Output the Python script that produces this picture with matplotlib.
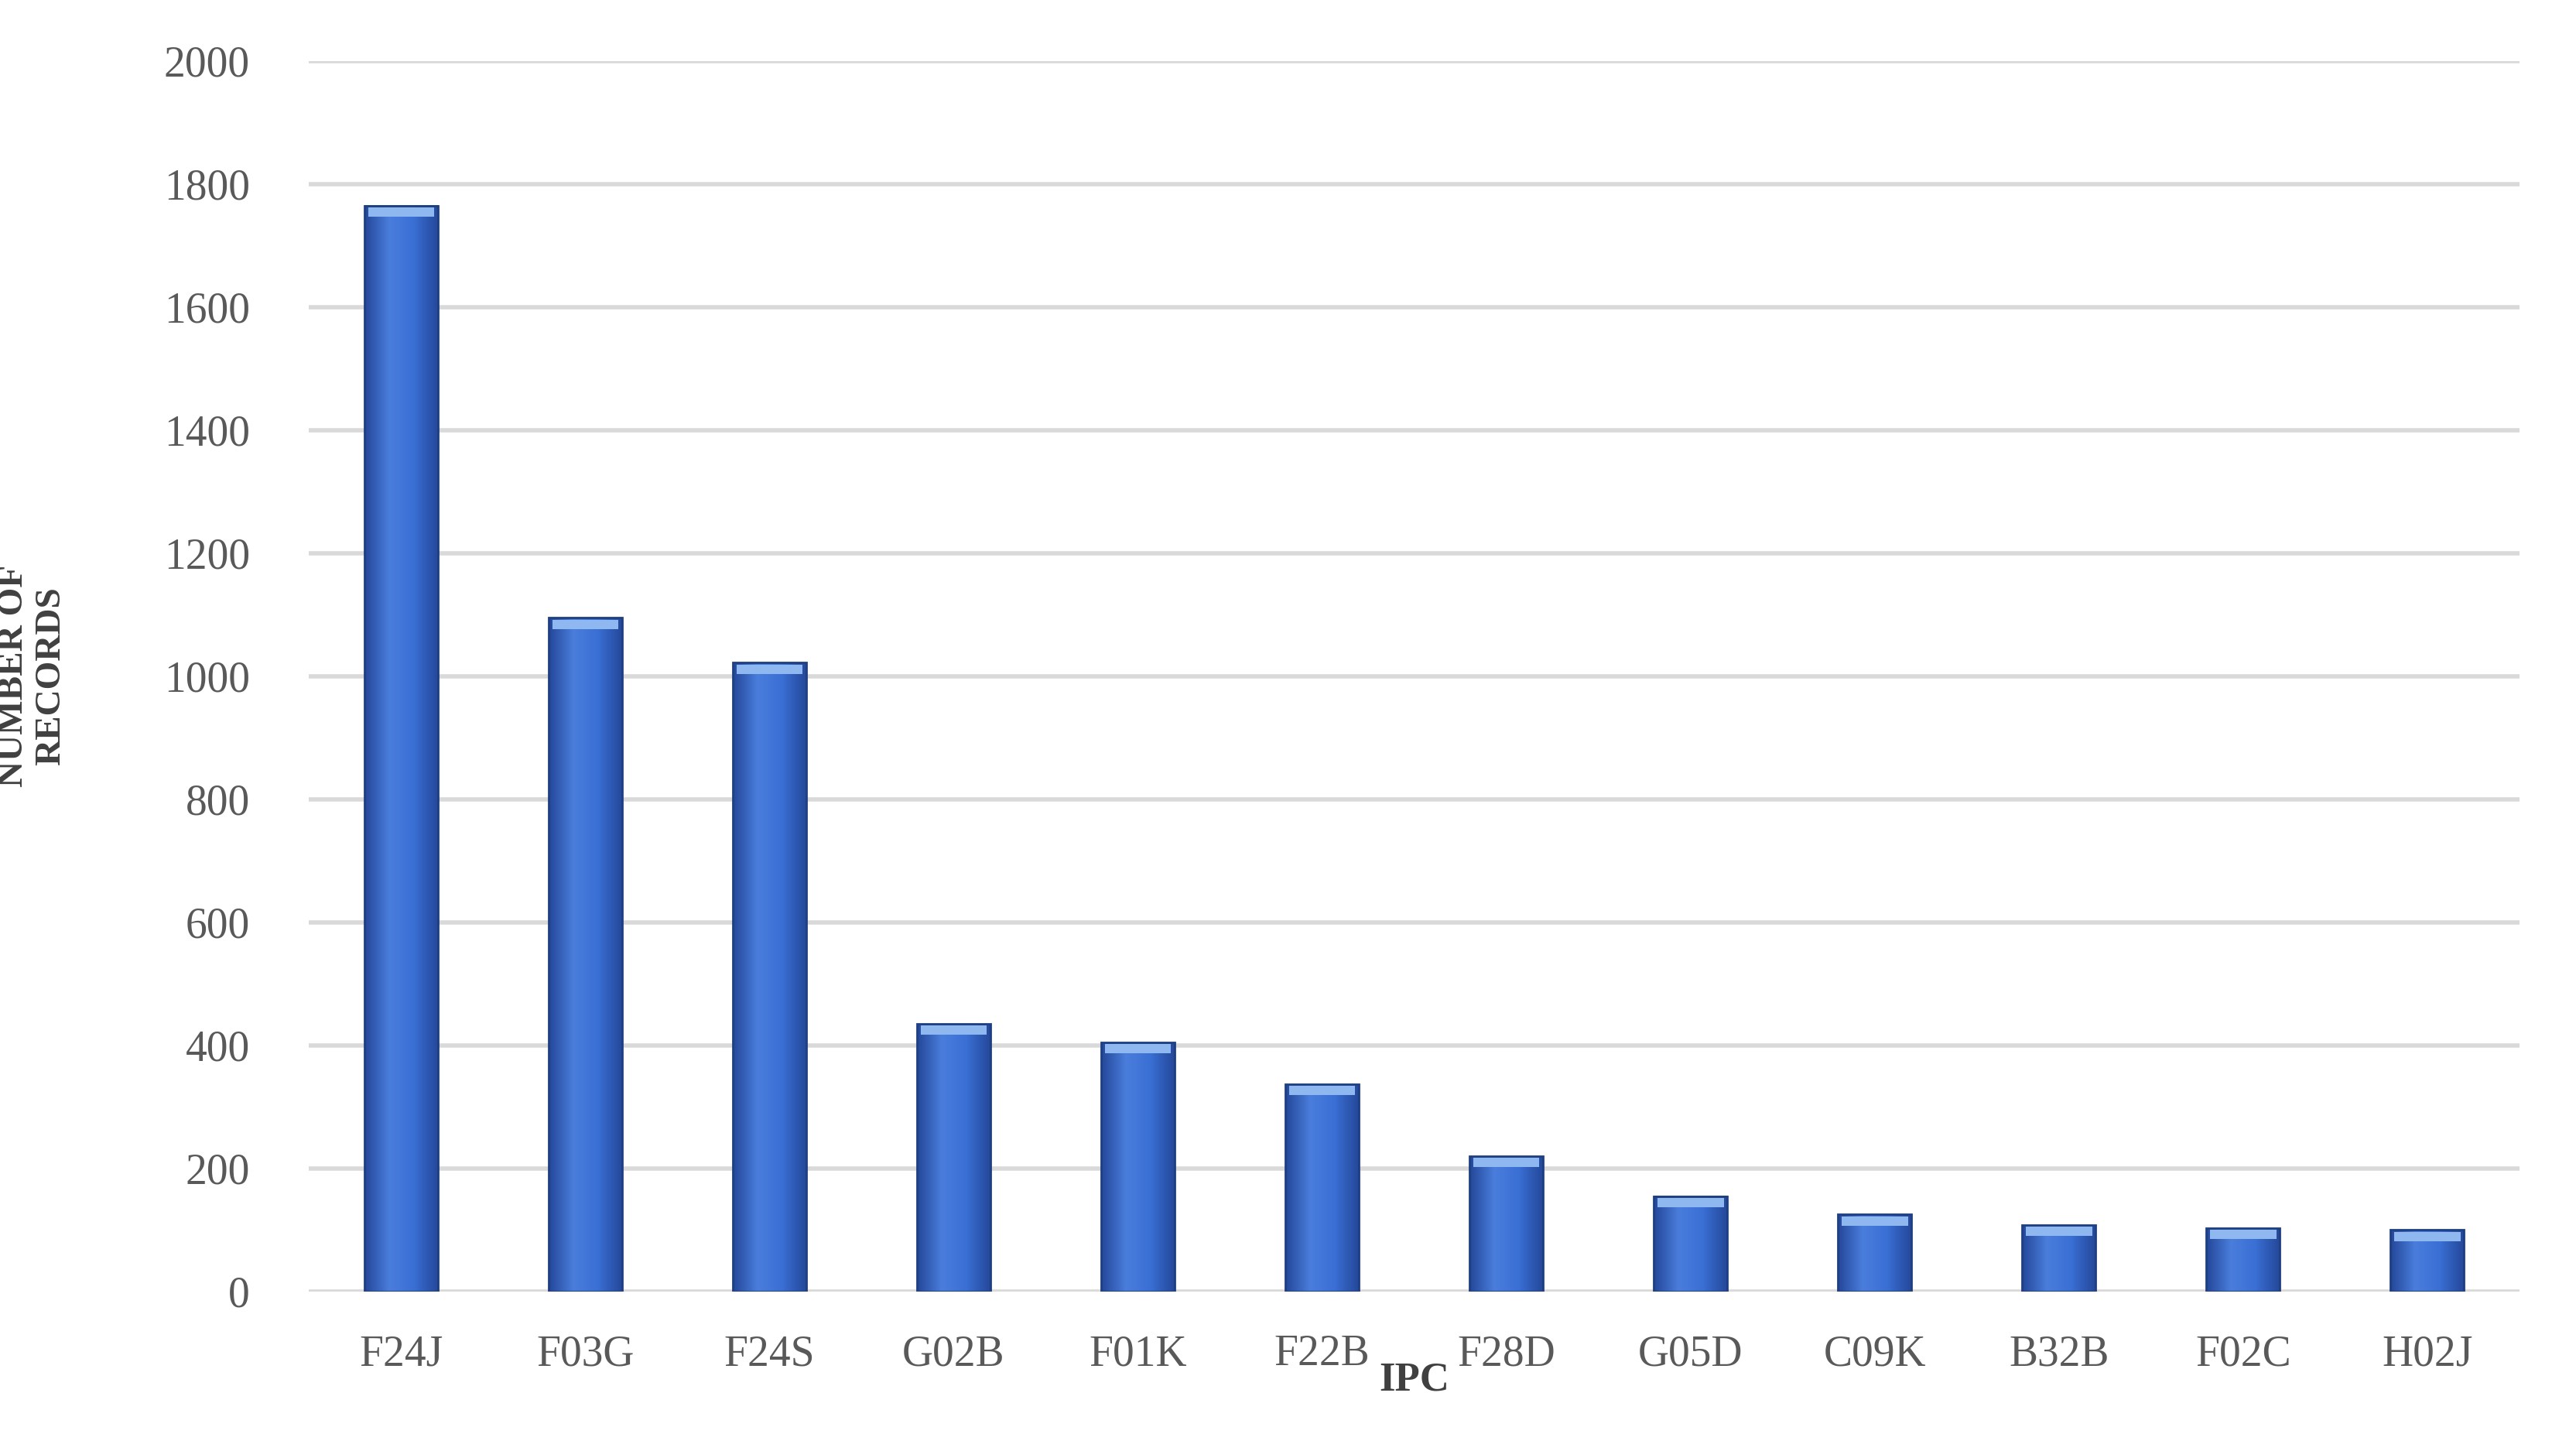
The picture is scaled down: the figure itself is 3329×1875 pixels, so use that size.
import matplotlib
matplotlib.use("Agg")
import matplotlib.pyplot as plt
import numpy as np
from matplotlib.colors import LinearSegmentedColormap

categories = ["F24J", "F03G", "F24S", "G02B", "F01K", "F22B", "F28D", "G05D", "C09K", "B32B", "F02C", "H02J"]
values = [1765, 1095, 1022, 435, 405, 337, 220, 155, 125, 108, 103, 100]
yticks = [0, 200, 400, 600, 800, 1000, 1200, 1400, 1600, 1800, 2000]

plt.rcParams['font.family'] = ['Liberation Serif', 'DejaVu Serif']
fig = plt.figure(figsize=(33.29, 18.75), dpi=100)
ax = fig.add_axes([0.12, 0.11, 0.858, 0.848])

cmap = LinearSegmentedColormap.from_list("b", ["#24489a", "#4a7ddc", "#3a6fd4", "#24489a"])
grad = np.linspace(0, 1, 64).reshape(1, -1)
w = 0.4
x = np.arange(len(categories))
bars = ax.bar(x, values, width=w, color="none", edgecolor="#1f3f80", linewidth=2, zorder=3)
for b in bars:
    x0, h = b.get_x(), b.get_height()
    ax.imshow(grad, cmap=cmap, extent=[x0, x0 + w, 0, h], aspect="auto", zorder=2)
    ax.fill_between([x0 + 0.02, x0 + w - 0.02], h - 18, h - 3, color="#8fb8f0", zorder=3, lw=0)

ax.set_xlim(-0.5, len(categories) - 0.5)
ax.set_ylim(0, 2000)
ax.set_yticks(yticks)
ax.set_xticks(x)
ax.set_xticklabels(categories)
ax.yaxis.grid(True, color="#d9d9d9", linewidth=4, zorder=0)
ax.set_axisbelow(True)
for s in ax.spines.values():
    s.set_visible(False)
ax.tick_params(length=0, labelsize=40, colors="#595959")
ax.tick_params(axis="y", pad=55)
ax.tick_params(axis="x", pad=40)
ax.set_xlabel("IPC", fontsize=38, fontweight="bold", color="#404040", labelpad=-12)
ax.set_ylabel("NUMBER OF\nRECORDS", fontsize=34, fontweight="bold", color="#404040", labelpad=90)
fig.savefig("out.png", dpi=100)
